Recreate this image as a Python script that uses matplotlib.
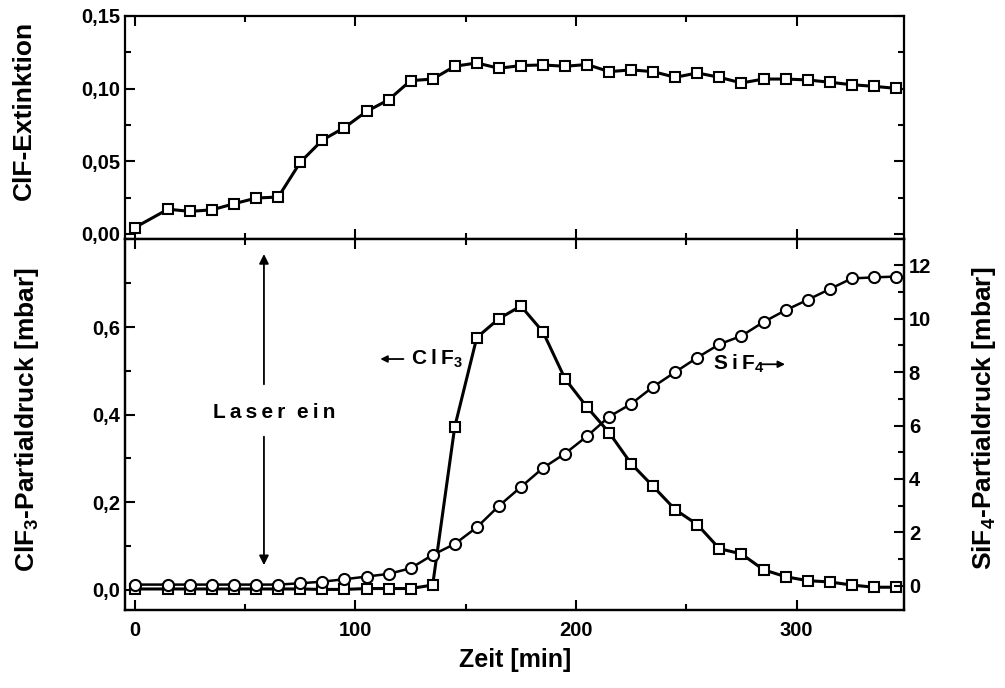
import numpy as np
import matplotlib
matplotlib.use("Agg")
import matplotlib.pyplot as plt
from matplotlib.ticker import MultipleLocator, FixedLocator, FuncFormatter

# DATEN
zeit = [0, 15, 25, 35, 45, 55, 65, 75, 85, 95, 105, 115, 125, 135, 145, 155, 165, 175,
        185, 195, 205, 215, 225, 235, 245, 255, 265, 275, 285, 295, 305, 315, 325, 335, 345]

clf_ext = [0.0044, 0.0170, 0.0155, 0.0166, 0.0208, 0.0247, 0.0254, 0.0494, 0.0646, 0.0732,
           0.0843, 0.0923, 0.1055, 0.1066, 0.1154, 0.1177, 0.1140, 0.1159, 0.1163, 0.1154,
           0.1166, 0.1117, 0.1129, 0.1117, 0.1078, 0.1108, 0.1078, 0.1039, 0.1066, 0.1066,
           0.1060, 0.1044, 0.1027, 0.1016, 0.1002]

clf3 = [0.002, 0.002, 0.002, 0.002, 0.002, 0.002, 0.002, 0.002, 0.001, 0.001,
        0.003, 0.003, 0.003, 0.011, 0.372, 0.576, 0.619, 0.648, 0.589, 0.482,
        0.417, 0.359, 0.288, 0.236, 0.183, 0.149, 0.094, 0.082, 0.046, 0.030,
        0.021, 0.018, 0.011, 0.006, 0.006]

sif4 = [0.05, 0.05, 0.05, 0.05, 0.05, 0.05, 0.05, 0.10, 0.16, 0.25,
        0.35, 0.45, 0.66, 1.16, 1.57, 2.19, 2.99, 3.70, 4.41, 4.95,
        5.60, 6.33, 6.81, 7.45, 8.00, 8.54, 9.04, 9.35, 9.87, 10.31,
        10.70, 11.10, 11.50, 11.54, 11.57]

x_ticks = [0, 100, 200, 300]
clf3_ticks = [0.0, 0.2, 0.4, 0.6]

# STIL
plt.rcParams['font.family'] = ['Liberation Sans', 'DejaVu Sans']
plt.rcParams['font.weight'] = 'bold'
plt.rcParams['mathtext.fontset'] = 'custom'
plt.rcParams['mathtext.rm'] = 'Liberation Sans:bold'
plt.rcParams['mathtext.it'] = 'Liberation Sans:bold'
plt.rcParams['mathtext.bf'] = 'Liberation Sans:bold'

komma = FuncFormatter(lambda v, p: f"{v:.2f}".replace('.', ','))
komma1 = FuncFormatter(lambda v, p: f"{v:.1f}".replace('.', ','))


def style_axis(ax):
    for s in ax.spines.values():
        s.set_linewidth(1.6)
    ax.tick_params(which='both', direction='in', width=1.5, labelsize=14.5)
    ax.tick_params(which='major', length=7)
    ax.tick_params(which='minor', length=4)


fig = plt.figure(figsize=(10.05, 6.88), dpi=100)
L, R = 125 / 1005, 904 / 1005
ax1 = fig.add_axes([L, 1 - 239 / 688, R - L, (239 - 16) / 688])
ax2 = fig.add_axes([L, 1 - 610 / 688, R - L, (610 - 239) / 688], sharex=ax1)

# OBEN: ClF-Extinktion
ax1.plot(zeit, clf_ext, color='black', lw=2.2, marker='s', ms=7.5,
         mfc='white', mec='black', mew=1.5)
ax1.set_ylim(-0.0035, 0.15)
ax1.yaxis.set_major_locator(MultipleLocator(0.05))
ax1.yaxis.set_minor_locator(MultipleLocator(0.025))
ax1.yaxis.set_major_formatter(komma)
style_axis(ax1)
ax1.tick_params(axis='x', which='both', top=True, bottom=True, labelbottom=False)
ax1.tick_params(axis='y', which='both', left=True, right=True)

# UNTEN: ClF3 (links) und SiF4 (rechts)
ax2.plot(zeit, clf3, color='black', lw=2.2, marker='s', ms=7.5,
         mfc='white', mec='black', mew=1.5)
ax2.set_xlim(-4.5, 348.7)
ax2.set_ylim(-0.046, 0.801)
ax2.set_xticks(x_ticks)
ax2.xaxis.set_minor_locator(MultipleLocator(50))
ax2.yaxis.set_major_locator(FixedLocator(clf3_ticks))
ax2.yaxis.set_minor_locator(MultipleLocator(0.1))
ax2.yaxis.set_major_formatter(komma1)
style_axis(ax2)
ax2.tick_params(axis='x', which='both', top=True, bottom=True, pad=8)

ax3 = ax2.twinx()
ax3.plot(zeit, sif4, color='black', lw=1.8, marker='o', ms=8,
         mfc='white', mec='black', mew=1.5)
ax3.set_ylim(-0.9, 12.975)
ax3.yaxis.set_major_locator(MultipleLocator(2))
ax3.yaxis.set_minor_locator(MultipleLocator(1))
style_axis(ax3)

for lab in ax1.get_yticklabels() + ax2.get_yticklabels() + ax2.get_xticklabels() + ax3.get_yticklabels():
    lab.set_fontweight('bold')

# Beschriftungen
fig.text(24 / 1005, 1 - 110 / 688, 'ClF-Extinktion', rotation=90,
         fontsize=19, fontweight='bold', ha='center', va='center')
fig.text(27 / 1005, 1 - 420 / 688, 'ClF$_3$-Partialdruck [mbar]', rotation=90,
         fontsize=19, fontweight='bold', ha='center', va='center')
fig.text(984 / 1005, 1 - 418 / 688, 'SiF$_4$-Partialdruck [mbar]', rotation=90,
         fontsize=19, fontweight='bold', ha='center', va='center')
fig.text(515 / 1005, 1 - 660 / 688, 'Zeit [min]',
         fontsize=18, fontweight='bold', ha='center', va='center')

# Laser ein
pfeil = dict(arrowstyle='-|>', color='black', lw=1.3, mutation_scale=14)
ax2.annotate('', xy=(58.5, 0.773), xytext=(58.5, 0.463), arrowprops=pfeil)
ax2.annotate('', xy=(58.5, 0.05), xytext=(58.5, 0.356), arrowprops=pfeil)
ax2.text(63, 0.405, 'L\u2009a\u2009s\u2009e\u2009r  e\u2009i\u2009n', fontsize=15,
         fontweight='bold', ha='center', va='center')

# Pfeile an den Kurven
kleiner = dict(arrowstyle='-|>', color='black', lw=1.3, mutation_scale=10)
ax2.annotate('', xy=(110, 0.527), xytext=(123, 0.527), arrowprops=kleiner)
ax2.text(125, 0.527, 'C\u2009l\u2009F$_3$', fontsize=15, fontweight='bold',
         ha='left', va='center')
ax2.text(262, 0.515, 'S\u2009i\u2009F$_4$', fontsize=15, fontweight='bold',
         ha='left', va='center')
ax2.annotate('', xy=(296, 0.515), xytext=(282, 0.515), arrowprops=kleiner)

fig.savefig('out.png', dpi=100)
